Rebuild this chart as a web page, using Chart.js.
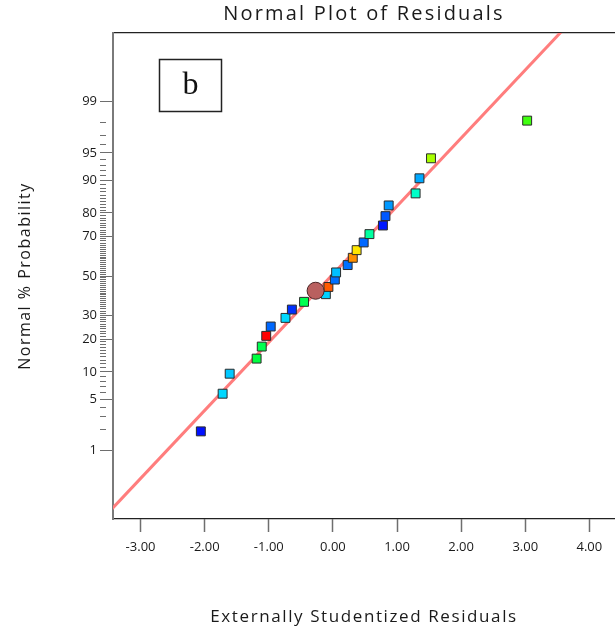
<!DOCTYPE html>
<html>
<head>
<meta charset="utf-8">
<title>Normal Plot of Residuals</title>
<script src="https://cdn.jsdelivr.net/npm/chart.js@4.4.0/dist/chart.umd.min.js"></script>
<style>
  html, body { margin: 0; padding: 0; background: #fff; }
  #wrap { width: 615px; height: 632px; }
</style>
</head>
<body>
<div id="wrap"><canvas id="normalPlot" width="615" height="632"></canvas></div>
<script>
// externally studentized residuals, sorted, with their normal % probability
const residuals = [
  -2.06, -1.72, -1.61, -1.19, -1.11, -1.04, -0.97, -0.74, -0.64, -0.45,
  -0.11, -0.07, 0.03, 0.05, 0.23, 0.31, 0.37, 0.48, 0.57, 0.78,
  0.82, 0.87, 1.29, 1.35, 1.53, 3.03
];
const probabilities = [
  1.9, 5.8, 9.6, 13.5, 17.3, 21.2, 25.0, 28.8, 32.7, 36.5,
  40.4, 44.2, 48.1, 51.9, 55.8, 59.6, 63.5, 67.3, 71.2, 75.0,
  78.8, 82.7, 86.5, 90.4, 94.2, 98.1
];
const pointColors = [
  '#0010ff', '#00d8ff', '#00c8ff', '#00ff40', '#00ff50', '#ff0000', '#0068ff', '#00d8ff', '#0030ff', '#00ff50',
  '#00d0ff', '#ff5a00', '#0070ff', '#00c0ff', '#0070ff', '#ff9000', '#ffe600', '#0068ff', '#00ffa0', '#0018ff',
  '#0058ff', '#0098ff', '#00ffc8', '#00a8ff', '#a8ff00', '#40ff10'
];

// highlighted run
const markedResidual = [-0.27];
const markedProbability = [42.2];

// normal reference line, end points
const lineResiduals = [-3.6, 3.6];
const lineProbabilities = [0.058, 99.951];

// axis ticks
const xTicks = [-3, -2, -1, 0, 1, 2, 3, 4];
const yTickLabels = [1, 5, 10, 20, 30, 50, 70, 80, 90, 95, 99];
const yAllTicks = Array.from({ length: 99 }, (_, i) => i + 1);

// inverse of the standard normal CDF (Acklam's approximation)
function probit(p) {
  const a = [-3.969683028665376e+01, 2.209460984245205e+02, -2.759285104469687e+02, 1.383577518672690e+02, -3.066479806614716e+01, 2.506628277459239e+00];
  const b = [-5.447609879822406e+01, 1.615858368580409e+02, -1.556989798598866e+02, 6.680131188771972e+01, -1.328068155288572e+01];
  const c = [-7.784894002430293e-03, -3.223964580411365e-01, -2.400758277161838e+00, -2.549732539343734e+00, 4.374664141464968e+00, 2.938163982698783e+00];
  const d = [7.784695709041462e-03, 3.224671290700398e-01, 2.445134137142996e+00, 3.754408661907416e+00];
  const pLow = 0.02425;
  let q, r;
  if (p < pLow) {
    q = Math.sqrt(-2 * Math.log(p));
    return (((((c[0] * q + c[1]) * q + c[2]) * q + c[3]) * q + c[4]) * q + c[5]) /
      ((((d[0] * q + d[1]) * q + d[2]) * q + d[3]) * q + 1);
  }
  if (p <= 1 - pLow) {
    q = p - 0.5;
    r = q * q;
    return (((((a[0] * r + a[1]) * r + a[2]) * r + a[3]) * r + a[4]) * r + a[5]) * q /
      (((((b[0] * r + b[1]) * r + b[2]) * r + b[3]) * r + b[4]) * r + 1);
  }
  q = Math.sqrt(-2 * Math.log(1 - p));
  return -(((((c[0] * q + c[1]) * q + c[2]) * q + c[3]) * q + c[4]) * q + c[5]) /
    ((((d[0] * q + d[1]) * q + d[2]) * q + d[3]) * q + 1);
}

const toPoints = (xs, ps) => xs.map((x, i) => ({ x: x, y: probit(ps[i] / 100) }));

const FONT = "'Open Sans', 'Noto Sans', sans-serif";
const TEXT = '#1a1a1a';
const X_MIN = -3.43, X_MAX = 4.40;
const Z_LIMIT = 3.245;

// the plot box runs right up to the canvas edge, no room kept for labels
const noSidePadding = scale => { scale.paddingLeft = 0; scale.paddingRight = 0; };

// axis titles are set a little loose
const titleSpacing = { x: '1.6px', xTop: '2.2px', y: '1.5px' };
const looseTitles = {
  id: 'looseTitles',
  afterLayout(chart) {
    Object.values(chart.scales).forEach(scale => {
      if (scale._looseTitle || !titleSpacing[scale.id]) return;
      const drawTitle = scale.drawTitle;
      scale.drawTitle = function () {
        const ctx = this.ctx;
        ctx.save();
        ctx.letterSpacing = titleSpacing[this.id];
        drawTitle.call(this);
        ctx.restore();
      };
      scale._looseTitle = true;
    });
  }
};

// the small "b" panel tag in the upper left of the plot
const panelTag = {
  id: 'panelTag',
  afterDraw(chart) {
    const { ctx, chartArea } = chart;
    const x = chartArea.left + 46.5, y = chartArea.top + 26.5;
    ctx.save();
    ctx.strokeStyle = '#222';
    ctx.lineWidth = 1.5;
    ctx.strokeRect(x, y, 62, 52);
    ctx.fillStyle = '#111';
    ctx.font = "32px 'Liberation Serif', 'DejaVu Serif', serif";
    ctx.textAlign = 'center';
    ctx.textBaseline = 'middle';
    ctx.fillText('b', x + 31, y + 26);
    ctx.restore();
  }
};

new Chart(document.getElementById('normalPlot'), {
  type: 'scatter',
  data: {
    datasets: [
      {
        data: toPoints(markedResidual, markedProbability),
        pointStyle: 'circle',
        pointRadius: 8.5,
        pointHoverRadius: 8.5,
        backgroundColor: '#b9605f',
        borderColor: '#4a2424',
        borderWidth: 1,
        order: 1
      },
      {
        data: toPoints(residuals, probabilities),
        pointStyle: 'rect',
        pointRadius: 6.3,
        pointHoverRadius: 6.3,
        backgroundColor: pointColors,
        borderColor: '#2a2a2a',
        borderWidth: 1,
        order: 2
      },
      {
        data: toPoints(lineResiduals, lineProbabilities),
        showLine: true,
        pointRadius: 0,
        borderColor: '#ff7d7d',
        borderWidth: 3,
        order: 3
      }
    ]
  },
  options: {
    responsive: false,
    animation: false,
    devicePixelRatio: 1,
    layout: { padding: 0, autoPadding: false },
    plugins: {
      legend: { display: false },
      tooltip: { enabled: false },
      title: { display: false }
    },
    scales: {
      x: {
        type: 'linear',
        position: 'bottom',
        min: X_MIN,
        max: X_MAX,
        afterBuildTicks: scale => { scale.ticks = xTicks.map(v => ({ value: v })); },
        afterFit: scale => { scale.height = 113; noSidePadding(scale); },
        ticks: {
          callback: v => v.toFixed(2),
          font: { family: FONT, size: 13 },
          color: TEXT,
          padding: 7,
          maxRotation: 0,
          autoSkip: false
        },
        grid: { drawOnChartArea: false, tickLength: 13, tickColor: '#6e6e6e', tickWidth: 1.5 },
        border: { color: '#222', width: 1.2 },
        title: {
          display: true,
          text: 'Externally Studentized Residuals',
          font: { family: FONT, size: 17 },
          color: TEXT,
          padding: { top: 0, bottom: 5 }
        }
      },
      xTop: {
        type: 'linear',
        position: 'top',
        min: X_MIN,
        max: X_MAX,
        afterFit: scale => { scale.height = 33; noSidePadding(scale); },
        ticks: { display: false },
        grid: { drawOnChartArea: false, drawTicks: false },
        border: { color: '#222', width: 1.2 },
        title: {
          display: true,
          text: 'Normal Plot of Residuals',
          font: { family: FONT, size: 20 },
          color: TEXT,
          padding: { top: 2, bottom: 0 }
        }
      },
      y: {
        type: 'linear',
        position: 'left',
        min: -Z_LIMIT,
        max: Z_LIMIT,
        afterBuildTicks: scale => { scale.ticks = yAllTicks.map(p => ({ value: probit(p / 100) })); },
        afterFit: scale => { scale.width = 113; },
        ticks: {
          autoSkip: false,
          callback: (v, i) => (yTickLabels.includes(yAllTicks[i]) ? String(yAllTicks[i]) : ''),
          font: { family: FONT, size: 13 },
          color: TEXT,
          padding: 3
        },
        grid: {
          drawOnChartArea: false,
          tickLength: 13,
          tickColor: '#6e6e6e',
          tickWidth: 1,
          // minor ticks only keep the first few pixels next to the axis
          tickBorderDash: ctx => (yTickLabels.includes(yAllTicks[ctx.index]) ? [] : [6, 40])
        },
        border: { color: '#7a7a7a', width: 2 },
        title: {
          display: true,
          text: 'Normal % Probability',
          font: { family: FONT, size: 16 },
          color: TEXT,
          padding: { top: 16, bottom: 0 }
        }
      }
    }
  },
  plugins: [looseTitles, panelTag]
});
</script>
</body>
</html>
